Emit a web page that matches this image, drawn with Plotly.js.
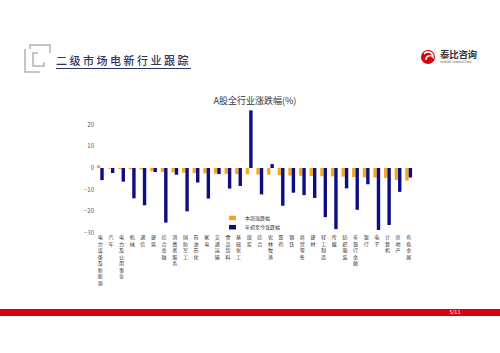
<!DOCTYPE html>
<html>
<head>
<meta charset="utf-8">
<script src="https://cdn.plot.ly/plotly-3.0.1.min.js"></script>
<style>
  html, body { margin: 0; padding: 0; background: #fff; }
  #wrap { position: relative; width: 500px; height: 353px; overflow: hidden; background: #fff; font-family: "Noto Sans CJK SC", "Noto Sans", sans-serif; }
  #chart { position: absolute; left: 0; top: 0; width: 500px; height: 353px; }
  .hdr { position: absolute; left: 56px; top: 53px; font-size: 11px; letter-spacing: 2.5px; color: #2b3763; font-weight: 500; white-space: nowrap; line-height: 14px; border-bottom: 1px solid #2b3763; padding-bottom: 1px; }
  .logo-t { position: absolute; left: 440px; top: 49px; font-size: 9.5px; font-weight: 700; color: #333; line-height: 11px; white-space: nowrap; letter-spacing: -0.3px; }
  .logo-s { position: absolute; left: 440px; top: 61px; font-size: 3px; color: #555; line-height: 3px; white-space: nowrap; font-family: "DejaVu Sans", sans-serif; }
  .foot { position: absolute; left: 0; top: 309px; width: 500px; height: 7px; background: #d7000f; }
  .page { position: absolute; left: 440px; top: 309px; width: 30px; text-align: center; font-size: 5px; color: #fff; line-height: 7px; font-family: "DejaVu Sans", sans-serif; }
  svg.deco { position: absolute; left: 0; top: 0; }
</style>
</head>
<body>
<div id="wrap">
  <div id="chart"></div>
  <svg class="deco" width="500" height="100">
    <path d="M50 53 V45 H30 V49" fill="none" stroke="#b3b3b3" stroke-width="1.5"/>
    <path d="M25 49 V72 H40" fill="none" stroke="#b3b3b3" stroke-width="1.5"/>
    <path d="M38 53 H33 V66 H44 V62" fill="none" stroke="#b3b3b3" stroke-width="1.5"/>
    <circle cx="428" cy="57" r="7" fill="#d7000f"/>
    <path d="M424 54 A5 5 0 0 1 433 57 A4 4 0 0 0 426 60" fill="none" stroke="#fff" stroke-width="1.6"/>
  </svg>
  <div class="hdr">二级市场电新行业跟踪</div>
  <div class="logo-t">泰比咨询</div>
  <div class="logo-s">SOBIRE CONSULTING</div>
  <div class="foot"></div>
  <div class="page">5/11</div>
</div>
<script>
const categories = ["电力设备及新能源","汽车","电力及公用事业","机械","通信","建筑","综合金融","消费者服务","国防军工","石油石化","家电","交通运输","食品饮料","基础化工","煤炭","综合","农林牧渔","医药","钢铁","商贸零售","建材","轻工制造","传媒","纺织服装","非银行金融","银行","电子","计算机","房地产","有色金属"];
const weeklyChange = [1.2,-0.3,-0.5,-0.6,-0.7,-1.5,-1.9,-2.0,-2.2,-2.4,-2.5,-2.6,-2.7,-2.8,-2.9,-3.0,-3.1,-3.3,-3.5,-3.6,-3.7,-3.8,-3.9,-4.0,-4.2,-4.3,-4.4,-4.6,-5.5,-5.8];
const ytdChange = [-5.6,-2.3,-6.3,-14.0,-17.2,-1.9,-25.2,-3.1,-20.0,-6.7,-14.1,-2.8,-9.5,-8.3,26.6,-12.2,1.8,-17.4,-11.4,-12.5,-13.8,-22.7,-28.2,-9.4,-19.3,-7.5,-28.6,-26.3,-11.0,-4.4];
const seriesNames = ["本周涨跌幅","年初至今涨跌幅"];
const seriesColors = ["#f4a82a","#0e0e80"];
const yTicks = [-30,-20,-10,0,10,20];

const tickText = categories.map(c => c.split("").join("<br>"));

const traces = [
  { type: "bar", name: seriesNames[0], x: categories, y: weeklyChange, marker: { color: seriesColors[0] } },
  { type: "bar", name: seriesNames[1], x: categories, y: ytdChange, marker: { color: seriesColors[1] } }
];

// compact legend drawn with shapes + annotations (paper coordinates)
const legendX0 = 0.42, legendX1 = 0.442, legendTextX = 0.465;
const legendRows = [[0.098, 0.133, 0.116], [0.027, 0.062, 0.045]];
const shapes = legendRows.map((r, i) => ({
  type: "rect", xref: "paper", yref: "paper", x0: legendX0, x1: legendX1, y0: r[0], y1: r[1],
  fillcolor: seriesColors[i], line: { width: 0 }
}));
const annotations = legendRows.map((r, i) => ({
  xref: "paper", yref: "paper", x: legendTextX, y: r[2], xanchor: "left", yanchor: "middle",
  text: seriesNames[i], showarrow: false, font: { size: 5, color: "#333" }
}));

const layout = {
  width: 500, height: 353,
  margin: { l: 95, r: 86, t: 103, b: 120, pad: 0 },
  paper_bgcolor: "rgba(0,0,0,0)",
  plot_bgcolor: "rgba(0,0,0,0)",
  font: { family: "Noto Sans CJK SC, Noto Sans, sans-serif", color: "#444" },
  title: { text: "A股全行业涨跌幅(%)", font: { size: 9, color: "#333" }, x: 0.51, xanchor: "center", y: 0.714, yanchor: "middle" },
  barmode: "group", bargap: 0.36, bargroupgap: 0,
  showlegend: false,
  shapes: shapes,
  annotations: annotations,
  xaxis: { type: "category", tickvals: categories, ticktext: tickText, tickangle: 0, tickfont: { size: 5, color: "#333" }, showgrid: false, zeroline: false, showline: false, ticks: "" },
  yaxis: { range: [-30, 30], tickvals: yTicks, tickfont: { size: 6, color: "#555" }, showgrid: false, zeroline: false, showline: false, ticks: "" }
};

Plotly.newPlot("chart", traces, layout, { displayModeBar: false, staticPlot: true });
</script>
</body>
</html>
